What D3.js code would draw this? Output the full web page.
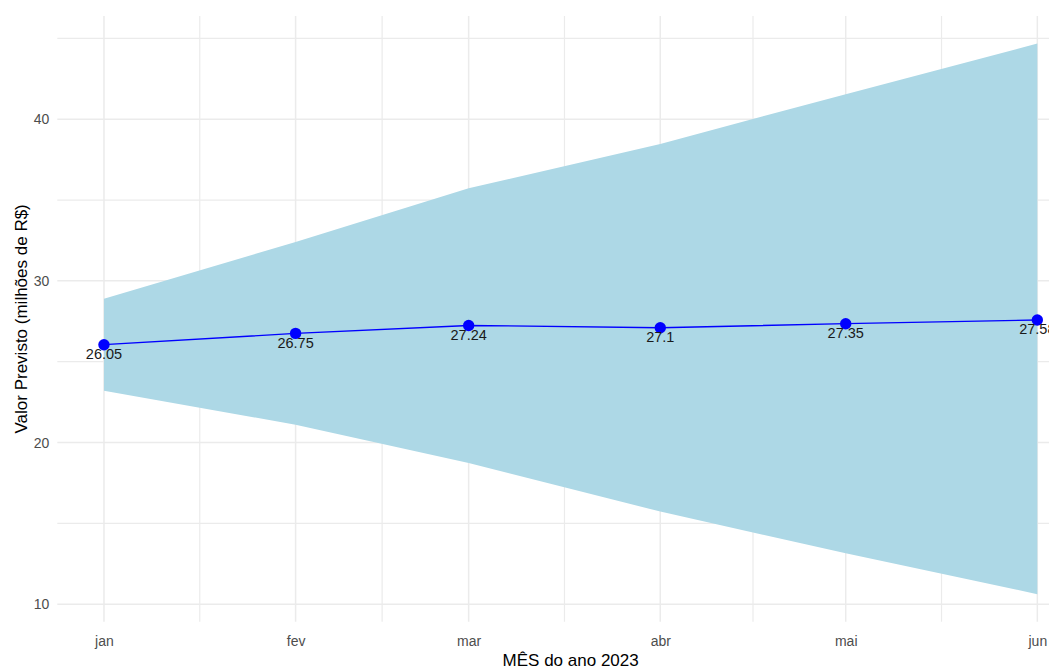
<!DOCTYPE html>
<html>
<head>
<meta charset="utf-8">
<script src="https://cdn.jsdelivr.net/npm/d3@7"></script>
<style>
  html, body { margin: 0; padding: 0; background: #ffffff; overflow: hidden; }
  svg { display: block; font-family: "Liberation Sans", Arial, sans-serif; }
</style>
</head>
<body>
<svg id="chart" width="1049" height="671"></svg>
<script>
// ---- data ----
const months = ["2023-01-01", "2023-02-01", "2023-03-01", "2023-04-01", "2023-05-01", "2023-06-01"];
const monthLabels = ["jan", "fev", "mar", "abr", "mai", "jun"];
const forecast = [26.05, 26.75, 27.24, 27.10, 27.35, 27.58];
const lower = [23.20, 21.10, 18.73, 15.73, 13.15, 10.62];
const upper = [28.90, 32.40, 35.73, 38.47, 41.55, 44.68];
const yTicks = [10, 20, 30, 40];
const yMinorTicks = [15, 25, 35, 45];
const xTitle = "MÊS do ano 2023";
const yTitle = "Valor Previsto (milhões de R$)";

// ---- layout ----
const svg = d3.select("#chart");
const panel = { left: 57.3, right: 1084, top: 16, bottom: 621.7 };

const dates = months.map(s => new Date(s + "T00:00:00Z"));
const data = dates.map((d, i) => ({ date: d, value: forecast[i], lo: lower[i], hi: upper[i], label: monthLabels[i] }));

// ggplot-style 5% expansion
const xExt = d3.extent(dates, d => d.getTime());
const xPad = (xExt[1] - xExt[0]) * 0.05;
const x = d3.scaleUtc()
  .domain([new Date(xExt[0] - xPad), new Date(xExt[1] + xPad)])
  .range([panel.left, panel.right]);

const yMin = d3.min(lower), yMax = d3.max(upper);
const yPad = (yMax - yMin) * 0.05;
const y = d3.scaleLinear()
  .domain([yMin - yPad, yMax + yPad])
  .range([panel.bottom, panel.top]);

const grid = svg.append("g");
const gridColor = "#EBEBEB";

// minor horizontal gridlines
grid.selectAll("line.hminor").data(yMinorTicks.filter(v => v >= y.domain()[0] && v <= y.domain()[1]))
  .join("line")
  .attr("x1", panel.left).attr("x2", panel.right)
  .attr("y1", d => y(d)).attr("y2", d => y(d))
  .attr("stroke", gridColor).attr("stroke-width", 1.2);

// major horizontal gridlines
grid.selectAll("line.hmajor").data(yTicks)
  .join("line")
  .attr("x1", panel.left).attr("x2", panel.right)
  .attr("y1", d => y(d)).attr("y2", d => y(d))
  .attr("stroke", gridColor).attr("stroke-width", 1.5);

// minor vertical gridlines (midpoints between month breaks)
const xMinor = d3.pairs(dates).map(([a, b]) => new Date((a.getTime() + b.getTime()) / 2));
grid.selectAll("line.vminor").data(xMinor)
  .join("line")
  .attr("x1", d => x(d)).attr("x2", d => x(d))
  .attr("y1", panel.top).attr("y2", panel.bottom)
  .attr("stroke", gridColor).attr("stroke-width", 1.2);

// major vertical gridlines
grid.selectAll("line.vmajor").data(dates)
  .join("line")
  .attr("x1", d => x(d)).attr("x2", d => x(d))
  .attr("y1", panel.top).attr("y2", panel.bottom)
  .attr("stroke", gridColor).attr("stroke-width", 1.5);

// ribbon
const area = d3.area()
  .x(d => x(d.date))
  .y0(d => y(d.lo))
  .y1(d => y(d.hi));
svg.append("path")
  .datum(data)
  .attr("d", area)
  .attr("fill", "#ADD8E6");

// line
const line = d3.line().x(d => x(d.date)).y(d => y(d.value));
svg.append("path")
  .datum(data)
  .attr("d", line)
  .attr("fill", "none")
  .attr("stroke", "#0000FF")
  .attr("stroke-width", 1.3);

// points
svg.selectAll("circle.pt").data(data)
  .join("circle")
  .attr("cx", d => x(d.date))
  .attr("cy", d => y(d.value))
  .attr("r", 5.7)
  .attr("fill", "#0000FF");

// value labels
svg.selectAll("text.val").data(data)
  .join("text")
  .attr("x", d => x(d.date))
  .attr("y", d => y(d.value) + 14.5)
  .attr("text-anchor", "middle")
  .attr("font-size", "14.5px")
  .attr("fill", "#1a1a1a")
  .text(d => d.value.toFixed(2).replace(/0$/, "").replace(/\.$/, ""));

// y axis tick labels
const yAxis = d3.axisLeft(y).tickValues(yTicks).tickSize(0).tickPadding(0).tickFormat(d3.format("d"));
const gy = svg.append("g").attr("transform", `translate(${panel.left - 8},0)`).call(yAxis);
gy.select(".domain").remove();
gy.selectAll("text").attr("font-size", "14px").attr("fill", "#4D4D4D")
  .attr("font-family", "Liberation Sans, Arial, sans-serif");

// x axis tick labels
const xAxis = d3.axisBottom(x).tickValues(dates).tickSize(0).tickPadding(0)
  .tickFormat((d, i) => monthLabels[i]);
const gx = svg.append("g").attr("transform", `translate(0,${panel.bottom})`).call(xAxis);
gx.select(".domain").remove();
gx.selectAll("text").attr("font-size", "14px").attr("fill", "#4D4D4D")
  .attr("font-family", "Liberation Sans, Arial, sans-serif")
  .attr("dy", null).attr("y", 24);

// axis titles
svg.append("text")
  .attr("x", (panel.left + panel.right) / 2)
  .attr("y", 666)
  .attr("text-anchor", "middle")
  .attr("font-size", "17px")
  .attr("fill", "#000")
  .text(xTitle);

svg.append("text")
  .attr("transform", `translate(27,${(panel.top + panel.bottom) / 2}) rotate(-90)`)
  .attr("text-anchor", "middle")
  .attr("font-size", "17px")
  .attr("fill", "#000")
  .text(yTitle);
</script>
</body>
</html>
